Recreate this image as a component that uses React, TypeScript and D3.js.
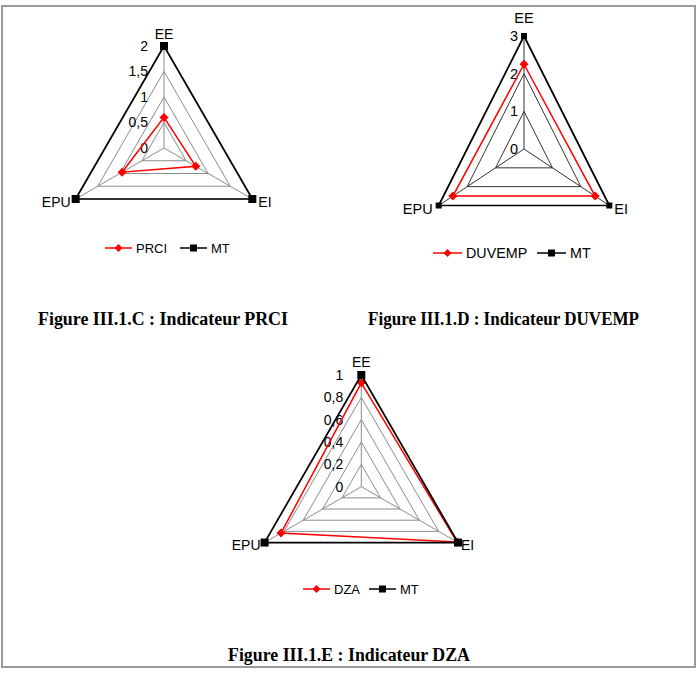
import React from "react";
import * as d3 from "d3";

const axes = ["EE", "EI", "EPU"];

const prciValues = [0.6, 0.72, 0.95];
const prciMT = [2, 2, 2];
const prciTicks = [0, 0.5, 1, 1.5, 2];

const duvempValues = [2.25, 2.5, 2.5];
const duvempMT = [3, 3, 3];
const duvempTicks = [0, 1, 2, 3];

const dzaValues = [0.93, 0.99, 0.83];
const dzaMT = [1, 1, 1];
const dzaTicks = [0, 0.2, 0.4, 0.6, 0.8, 1];

const seriesNames = ["PRCI", "DUVEMP", "DZA"];
const mtName = "MT";
const captions = [
  "Figure III.1.C : Indicateur PRCI",
  "Figure III.1.D : Indicateur DUVEMP",
  "Figure III.1.E : Indicateur DZA",
];

type Cfg = {
  cx: number; cy: number; R: number; sx: number;
  max: number; ticks: number[]; values: number[]; mt: number[]; name: string;
  grid: string; tickOff: number; eeOff: number; epuOff: number; eiOff: number;
  sq: number; legY: number; legA: number; legB: number; legW: number; fs: number; lfs: number;
};

const angles = [-90, 30, 150].map((a) => (a * Math.PI) / 180);
const FONT = "'Liberation Sans', Arial, sans-serif";

function Radar({ c }: { c: Cfg }) {
  const r = d3.scaleLinear().domain([0, c.max]).range([0, c.R]);
  const pt = (v: number, i: number): [number, number] => [
    c.cx + r(v) * Math.cos(angles[i]) * c.sx,
    c.cy + r(v) * Math.sin(angles[i]),
  ];
  const line = d3.line<[number, number]>().curve(d3.curveLinearClosed);
  const fmt = (v: number) => String(v).replace(".", ",");
  const diamond = (x: number, y: number, s: number) =>
    `M${x},${y - s}L${x + s},${y}L${x},${y + s}L${x - s},${y}Z`;
  const sPts = c.values.map((v, i) => pt(v, i));
  const mPts = c.mt.map((v, i) => pt(v, i));
  const top = pt(c.max, 0), ei = pt(c.max, 1), epu = pt(c.max, 2);
  return (
    <g fontFamily={FONT} fontSize={c.fs} fill="#000">
      {c.ticks.slice(1).map((t) => (
        <path key={"g" + t} d={line(axes.map((_, i) => pt(t, i))) || ""} fill="none" stroke={c.grid} strokeWidth={1} />
      ))}
      {axes.map((_, i) => {
        const [x, y] = pt(c.max, i);
        return <line key={"s" + i} x1={c.cx} y1={c.cy} x2={x} y2={y} stroke={c.grid} strokeWidth={1} />;
      })}
      {c.ticks.map((t) => (
        <text key={"t" + t} x={c.cx - c.tickOff} y={c.cy - r(t)} dy="0.35em" textAnchor="end">{fmt(t)}</text>
      ))}
      <path d={line(sPts) || ""} fill="none" stroke="#ff0000" strokeWidth={1.5} />
      {sPts.map(([x, y], i) => <path key={"d" + i} d={diamond(x, y, 4.5)} fill="#ff0000" />)}
      <path d={line(mPts) || ""} fill="none" stroke="#000" strokeWidth={1.7} />
      {mPts.map(([x, y], i) => (
        <rect key={"q" + i} x={x - c.sq / 2} y={y - c.sq / 2} width={c.sq} height={c.sq} fill="#000" />
      ))}
      <text x={top[0]} y={top[1] - c.eeOff} dy="0.35em" textAnchor="middle">{axes[0]}</text>
      <text x={ei[0] + c.eiOff} y={ei[1] + 3} dy="0.35em" textAnchor="start">{axes[1]}</text>
      <text x={epu[0] - c.epuOff} y={epu[1] + 3} dy="0.35em" textAnchor="end">{axes[2]}</text>
      {/* legend */}
      <line x1={c.legA} x2={c.legA + c.legW} y1={c.legY} y2={c.legY} stroke="#ff0000" strokeWidth={1.5} />
      <path d={diamond(c.legA + c.legW / 2, c.legY, 4)} fill="#ff0000" />
      <text x={c.legA + c.legW + 4} y={c.legY} dy="0.35em" fontSize={c.lfs}>{c.name}</text>
      <line x1={c.legB} x2={c.legB + c.legW} y1={c.legY} y2={c.legY} stroke="#000" strokeWidth={1.5} />
      <rect x={c.legB + c.legW / 2 - 3.5} y={c.legY - 3.5} width={7} height={7} fill="#000" />
      <text x={c.legB + c.legW + 4} y={c.legY} dy="0.35em" fontSize={c.lfs}>{mtName}</text>
    </g>
  );
}

const charts: Cfg[] = [
  {
    cx: 164, cy: 148, R: 102, sx: 1, max: 2, ticks: prciTicks, values: prciValues, mt: prciMT,
    name: seriesNames[0], grid: "#8c8c8c", tickOff: 16, eeOff: 12, epuOff: 5, eiOff: 6,
    sq: 8, legY: 248, legA: 105, legB: 180, legW: 27, fs: 14, lfs: 13,
  },
  {
    cx: 524, cy: 149, R: 113, sx: 0.872, max: 3, ticks: duvempTicks, values: duvempValues, mt: duvempMT,
    name: seriesNames[1], grid: "#333", tickOff: 6, eeOff: 18, epuOff: 6, eiOff: 5,
    sq: 6, legY: 253, legA: 433, legB: 537, legW: 29, fs: 14.5, lfs: 14.3,
  },
  {
    cx: 361.3, cy: 486.7, R: 111.7, sx: 1, max: 1, ticks: dzaTicks, values: dzaValues, mt: dzaMT,
    name: seriesNames[2], grid: "#8c8c8c", tickOff: 18, eeOff: 13, epuOff: 4, eiOff: 3,
    sq: 8, legY: 589, legA: 303, legB: 369, legW: 27, fs: 14, lfs: 13,
  },
];

export default function App() {
  return (
    <svg width={697} height={678} style={{ position: "absolute", left: 0, top: 0, background: "#fff" }}>
      <rect x={2} y={6} width={693} height={661} fill="#fff" stroke="#9a9a9a" strokeWidth={2} />
      {charts.map((c, i) => <Radar key={i} c={c} />)}
      <g fontFamily="'Liberation Serif', 'Times New Roman', serif" fontWeight="bold" fontSize={18} textAnchor="middle">
        <text x={163} y={325} textLength={250} lengthAdjust="spacingAndGlyphs">{captions[0]}</text>
        <text x={503.5} y={325} textLength={271} lengthAdjust="spacingAndGlyphs">{captions[1]}</text>
        <text x={349} y={661} textLength={242} lengthAdjust="spacingAndGlyphs">{captions[2]}</text>
      </g>
    </svg>
  );
}
